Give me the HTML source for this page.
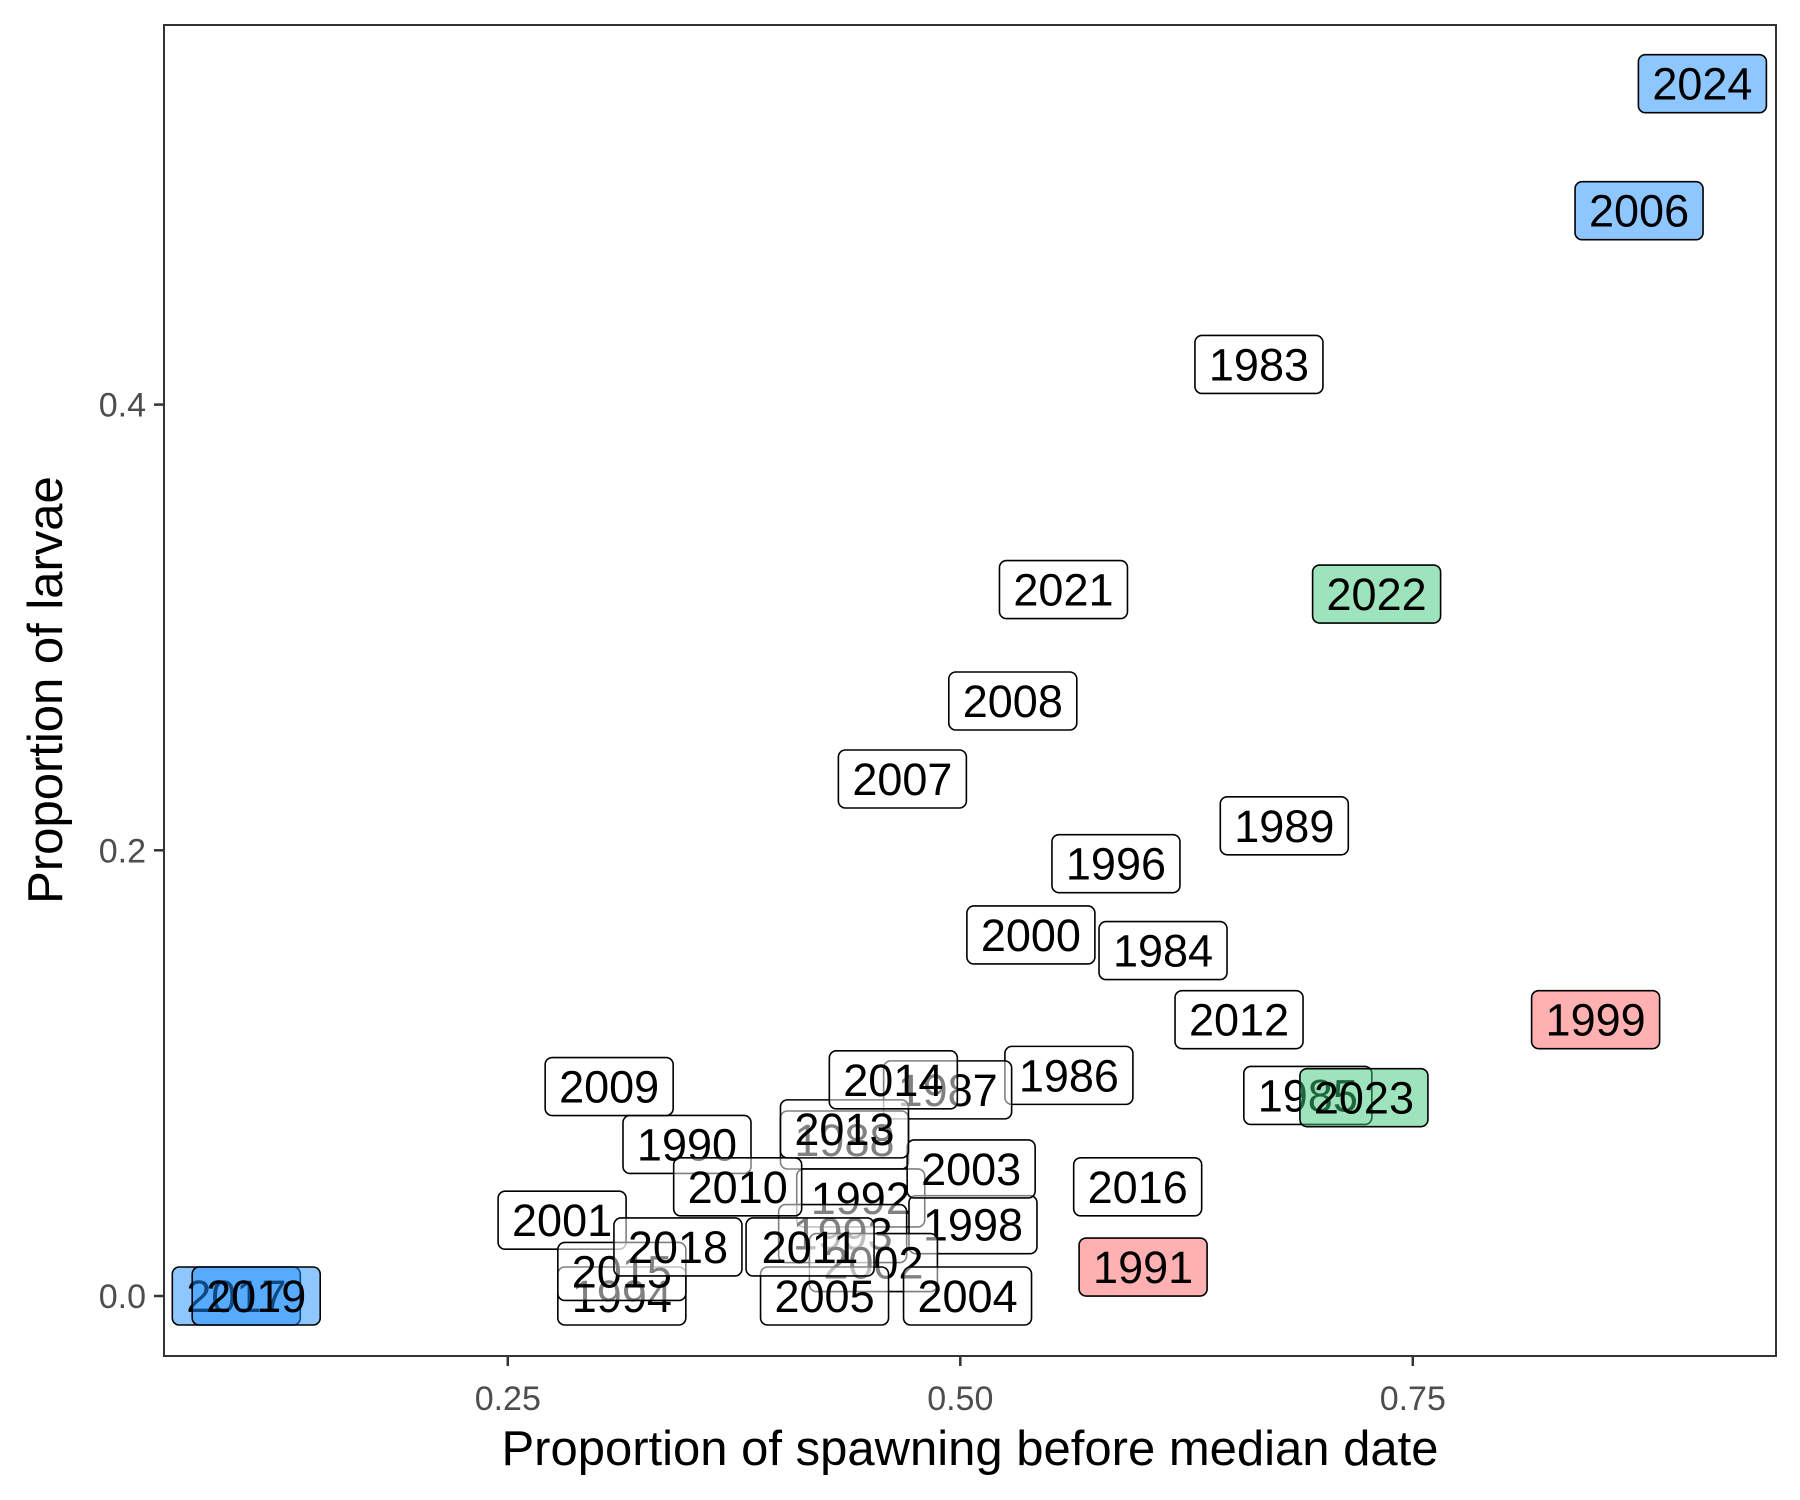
<!DOCTYPE html>
<html><head><meta charset="utf-8"><style>
body{margin:0;background:#fff;}
svg{display:block;font-family:"Liberation Sans",sans-serif;}
</style></head><body>
<svg id="chart" width="1800" height="1500">
<rect x="0" y="0" width="1800" height="1500" fill="#fff"/>
<g id="marks"></g>
<rect x="164" y="25" width="1612" height="1331" fill="none" stroke="#333" stroke-width="2"/>
<g id="axes"></g>
<text x="970" y="1465" font-size="49" text-anchor="middle" fill="#000">Proportion of spawning before median date</text>
<text transform="translate(62,690) rotate(-90)" font-size="49" text-anchor="middle" fill="#000">Proportion of larvae</text>
</svg>
<script>
const years=[1983,1984,1985,1986,1987,1988,1989,1990,1991,1992,1993,1994,1996,1998,1999,2000,2001,2002,2003,2004,2005,2006,2007,2008,2009,2010,2011,2012,2013,2014,2015,2016,2017,2018,2019,2021,2022,2023,2024];
const xVals=[0.665,0.612,0.692,0.560,0.493,0.436,0.679,0.349,0.601,0.445,0.435,0.313,0.586,0.507,0.851,0.539,0.280,0.452,0.506,0.504,0.425,0.875,0.468,0.529,0.306,0.377,0.417,0.654,0.436,0.463,0.313,0.598,0.100,0.344,0.111,0.557,0.730,0.723,0.910];
const yVals=[0.418,0.155,0.090,0.099,0.0925,0.070,0.211,0.068,0.013,0.044,0.028,0.0,0.194,0.032,0.124,0.162,0.034,0.015,0.057,0.0,0.0,0.487,0.232,0.267,0.094,0.049,0.022,0.124,0.075,0.097,0.011,0.049,0.0,0.022,0.0,0.317,0.315,0.089,0.544];
const groups=["n","n","n","n","n","n","n","n","r","n","n","n","n","n","r","n","n","n","n","n","n","b","n","n","n","n","n","n","n","n","n","n","b","n","b","n","g","g","b"];
const xTicks=[0.25,0.50,0.75];
const xTickLabels=["0.25","0.50","0.75"];
const yTicks=[0.0,0.2,0.4];
const yTickLabels=["0.0","0.2","0.4"];
const fills={n:"rgba(255,255,255,0.5)",b:"rgba(30,144,255,0.5)",g:"rgba(60,200,120,0.5)",r:"rgba(255,100,100,0.5)"};
const NS="http://www.w3.org/2000/svg";
function sx(v){return 55.3+v*1810;}
function sy(v){return 1296-v*2228.5;}
const marks=document.getElementById('marks');
years.forEach((yr,i)=>{
  const cx=sx(xVals[i]),cy=sy(yVals[i]);
  const g=document.createElementNS(NS,'g');
  
  
  const r=document.createElementNS(NS,'rect');
  r.setAttribute('x',cx-64);r.setAttribute('y',cy-29);
  r.setAttribute('width',128);r.setAttribute('height',58);
  r.setAttribute('rx',7);r.setAttribute('fill',fills[groups[i]]);
  r.setAttribute('stroke','#000');r.setAttribute('stroke-width',1.6);
  
  
  const t=document.createElementNS(NS,'text');
  t.setAttribute('x',cx);t.setAttribute('y',cy+16);
  t.setAttribute('font-size',45);t.setAttribute('text-anchor','middle');
  t.textContent=yr;
  
  
  g.appendChild(r);g.appendChild(t);marks.appendChild(g);
});
const axes=document.getElementById('axes');
xTicks.forEach((v,i)=>{
  const l=document.createElementNS(NS,'line');
  l.setAttribute('x1',sx(v));l.setAttribute('x2',sx(v));l.setAttribute('y1',1356);l.setAttribute('y2',1366);
  l.setAttribute('stroke','#333');l.setAttribute('stroke-width',2.5);
  
  
  axes.appendChild(l);
  const t=document.createElementNS(NS,'text');
  t.setAttribute('x',sx(v));t.setAttribute('y',1410);t.setAttribute('font-size',34);
  t.setAttribute('text-anchor','middle');t.setAttribute('fill','#4d4d4d');
  t.textContent=xTickLabels[i];
  
  
  axes.appendChild(t);
});
yTicks.forEach((v,i)=>{
  const l=document.createElementNS(NS,'line');
  l.setAttribute('x1',154);l.setAttribute('x2',164);l.setAttribute('y1',sy(v));l.setAttribute('y2',sy(v));
  l.setAttribute('stroke','#333');l.setAttribute('stroke-width',2.5);
  
  
  axes.appendChild(l);
  const t=document.createElementNS(NS,'text');
  t.setAttribute('x',146);t.setAttribute('y',sy(v)+12);t.setAttribute('font-size',34);
  t.setAttribute('text-anchor','end');t.setAttribute('fill','#4d4d4d');
  t.textContent=yTickLabels[i];
  
  
  axes.appendChild(t);
});
</script>
</body></html>
